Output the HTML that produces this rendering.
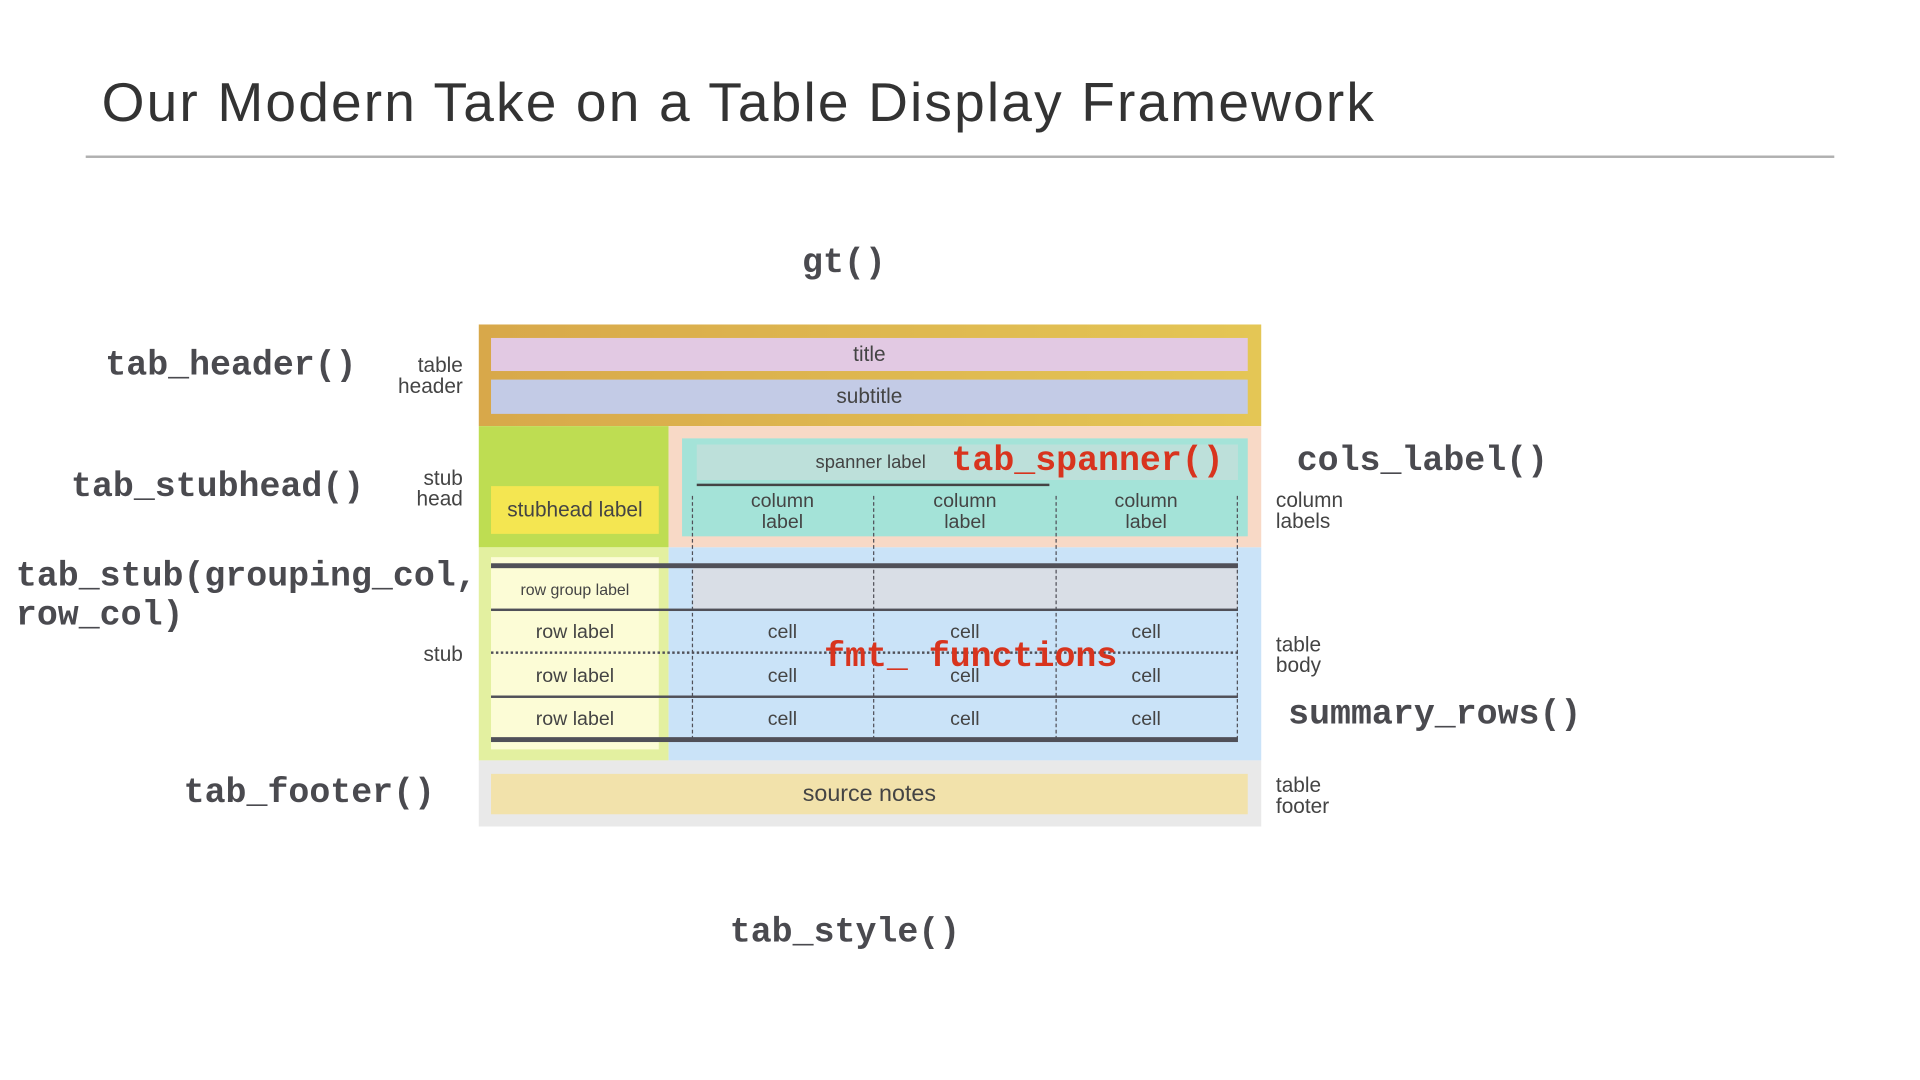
<!DOCTYPE html>
<html><head><meta charset="utf-8"><style>
html,body{margin:0;padding:0;background:#fff;width:1920px;height:1080px;overflow:hidden}
#s{position:absolute;left:0;top:0;width:1568px;height:882px;transform:scale(1.22449);transform-origin:0 0;font-family:"Liberation Sans",sans-serif;color:#444}
.a{position:absolute}
.m{font-family:"Liberation Mono",monospace;font-weight:bold;font-size:28.5px;color:#4a4a4f;white-space:nowrap;line-height:32px;margin-top:2px}
.r{color:#d8341e}
.t{font-size:16px;line-height:17px;color:#444;text-align:center;white-space:nowrap}
.sl{font-size:17px;line-height:17px;color:#444;white-space:nowrap}
.c{display:flex;align-items:center;justify-content:center}
</style></head><body><div id="s">
<div class="a" style="left:83px;top:58px;font-size:45px;letter-spacing:1.75px;color:#333;white-space:nowrap">Our Modern Take on a Table Display Framework</div>
<div class="a" style="left:70px;top:127px;width:1428px;height:2px;background:#b0b0b0"></div>

<div class="a m" style="left:655px;top:197px">gt()</div>

<div class="a" style="left:391px;top:265px;width:639px;height:83px;background:linear-gradient(90deg,#d8a84a,#e4c655)"></div>
<div class="a c" style="left:401px;top:276px;width:618px;height:27px;background:#e2c9e3;font-size:17px">title</div>
<div class="a c" style="left:401px;top:310px;width:618px;height:28px;background:#c3cbe6;font-size:17px">subtitle</div>

<div class="a" style="left:391px;top:348px;width:155px;height:99px;background:#bedd52"></div>
<div class="a c" style="left:401px;top:397px;width:137px;height:39px;background:#f4e651;font-size:17px">stubhead label</div>

<div class="a" style="left:546px;top:348px;width:484px;height:99px;background:#f8d9c6"></div>
<div class="a" style="left:557px;top:358px;width:462px;height:80px;background:#a4e3d8"></div>
<div class="a" style="left:569px;top:363px;width:442px;height:29px;background:#bde0da"></div>
<div class="a" style="left:666px;top:369px;font-size:15px;white-space:nowrap">spanner label</div>
<div class="a" style="left:569px;top:395px;width:288px;height:2px;background:#444"></div>
<div class="a t" style="left:589px;top:401px;width:100px">column<br>label</div>
<div class="a t" style="left:738px;top:401px;width:100px">column<br>label</div>
<div class="a t" style="left:886px;top:401px;width:100px">column<br>label</div>

<div class="a" style="left:391px;top:447px;width:155px;height:174px;background:#e3f0a0"></div>
<div class="a" style="left:401px;top:455px;width:137px;height:157px;background:#fcfcd6"></div>
<div class="a" style="left:546px;top:447px;width:484px;height:174px;background:#cae3f8"></div>
<div class="a" style="left:566px;top:464px;width:445px;height:33px;background:#d9dee6"></div>

<div class="a" style="left:401px;top:460px;width:610px;height:4px;background:#505058"></div>
<div class="a" style="left:401px;top:497px;width:610px;height:2px;background:#505058"></div>
<div class="a" style="left:401px;top:532px;width:610px;border-top:2px dotted #505058"></div>
<div class="a" style="left:401px;top:568px;width:610px;height:2px;background:#505058"></div>
<div class="a" style="left:401px;top:602px;width:610px;height:4px;background:#505058"></div>

<div class="a" style="left:565px;top:405px;height:199px;border-left:1.5px dashed #505058"></div>
<div class="a" style="left:713px;top:405px;height:199px;border-left:1.5px dashed #505058"></div>
<div class="a" style="left:862px;top:405px;height:199px;border-left:1.5px dashed #505058"></div>
<div class="a" style="left:1010px;top:405px;height:199px;border-left:1.5px dashed #505058"></div>

<div class="a t" style="left:401px;top:473px;width:137px;font-size:13px">row group label</div>
<div class="a t" style="left:401px;top:508px;width:137px">row label</div>
<div class="a t" style="left:401px;top:544px;width:137px">row label</div>
<div class="a t" style="left:401px;top:579px;width:137px">row label</div>
<div class="a t" style="left:589px;top:508px;width:100px">cell</div>
<div class="a t" style="left:738px;top:508px;width:100px">cell</div>
<div class="a t" style="left:886px;top:508px;width:100px">cell</div>
<div class="a t" style="left:589px;top:544px;width:100px">cell</div>
<div class="a t" style="left:738px;top:544px;width:100px">cell</div>
<div class="a t" style="left:886px;top:544px;width:100px">cell</div>
<div class="a t" style="left:589px;top:579px;width:100px">cell</div>
<div class="a t" style="left:738px;top:579px;width:100px">cell</div>
<div class="a t" style="left:886px;top:579px;width:100px">cell</div>

<div class="a" style="left:391px;top:621px;width:639px;height:54px;background:#e9e9e9"></div>
<div class="a c" style="left:401px;top:632px;width:618px;height:33px;background:#f2e2ab;font-size:19px">source notes</div>

<div class="a sl" style="left:278px;top:290px;width:100px;text-align:right">table<br>header</div>
<div class="a sl" style="left:278px;top:382px;width:100px;text-align:right">stub<br>head</div>
<div class="a sl" style="left:278px;top:526px;width:100px;text-align:right">stub</div>
<div class="a sl" style="left:1042px;top:400px">column<br>labels</div>
<div class="a sl" style="left:1042px;top:518px">table<br>body</div>
<div class="a sl" style="left:1042px;top:633px">table<br>footer</div>

<div class="a m" style="left:86px;top:281px">tab_header()</div>
<div class="a m" style="left:58px;top:380px">tab_stubhead()</div>
<div class="a m" style="left:13px;top:453px">tab_stub(grouping_col,</div>
<div class="a m" style="left:13px;top:485px">row_col)</div>
<div class="a m" style="left:150px;top:630px">tab_footer()</div>
<div class="a m" style="left:596px;top:744px">tab_style()</div>
<div class="a m" style="left:1059px;top:359px">cols_label()</div>
<div class="a m" style="left:1052px;top:566px">summary_rows()</div>
<div class="a m r" style="left:777px;top:359px">tab_spanner()</div>
<div class="a m r" style="left:673px;top:519px">fmt_ functions</div>
</div></body></html>
